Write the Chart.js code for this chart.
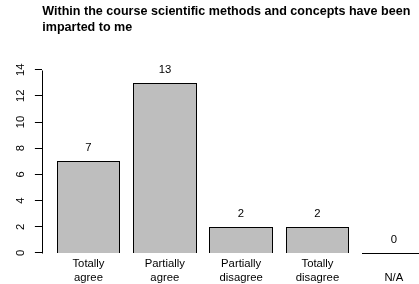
<!DOCTYPE html>
<html>
<head>
<meta charset="utf-8">
<script src="https://cdn.jsdelivr.net/npm/chart.js@4"></script>
<style>
    html, body { margin: 0; padding: 0; background: #fff; overflow: hidden; }
    #wrap { width: 419px; height: 284px; overflow: hidden; }
    canvas { display: block; }
</style>
</head>
<body>
<div id="wrap"><canvas id="barChart" width="441" height="284"></canvas></div>
<script>
'use strict';

const titleLines = ['Within the course scientific methods and concepts have been', 'imparted to me'];
const categories = [['Totally', 'agree'], ['Partially', 'agree'], ['Partially', 'disagree'], ['Totally', 'disagree'], ['', 'N/A']];
const counts = [7, 13, 2, 2, 0];
const yTicks = [0, 2, 4, 6, 8, 10, 12, 14];

const fontFamily = '"Liberation Sans", Arial, Helvetica, sans-serif';
// barplot layout: width 1, space 0.2
const barCenters = counts.map((_, i) => 0.7 + 1.2 * i);

const rStyle = {
    id: 'rStyle',
    beforeDatasetsDraw(chart) {
        // snap bar edges to whole pixels so the outlines stay crisp
        chart.getDatasetMeta(0).data.forEach(bar => {
            const left = Math.round(bar.x - bar.width / 2);
            const right = Math.round(bar.x + bar.width / 2);
            bar.x = (left + right) / 2;
            bar.width = right - left;
            bar.y = Math.round(bar.y);
            bar.base = Math.round(bar.base) + 1;
        });
    },
    afterDraw(chart) {
        const ctx = chart.ctx;
        const yScale = chart.scales.y;
        const area = chart.chartArea;
        ctx.save();

        // title, left aligned with the plot region
        ctx.fillStyle = '#000';
        ctx.font = 'bold 12.55px ' + fontFamily;
        ctx.textAlign = 'left';
        ctx.textBaseline = 'alphabetic';
        ctx.fillText(titleLines[0], 42.3, 15.3);
        ctx.fillText(titleLines[1], 42.3, 31);

        // y axis line only from first to last tick
        const ax = Math.round(area.left) + 0.5;
        ctx.strokeStyle = '#000';
        ctx.lineWidth = 1;
        ctx.beginPath();
        ctx.moveTo(ax, Math.round(yScale.getPixelForValue(yTicks[0])) + 0.5);
        ctx.lineTo(ax, Math.round(yScale.getPixelForValue(yTicks[yTicks.length - 1])) + 0.5);
        ctx.stroke();

        // counts above bars, zero bars as a flat line
        const meta = chart.getDatasetMeta(0);
        ctx.font = '11.3px ' + fontFamily;
        ctx.textAlign = 'center';
        ctx.textBaseline = 'middle';
        meta.data.forEach((bar, i) => {
            const {x, width} = bar.getProps(['x', 'width'], true);
            ctx.fillText(String(counts[i]), x, yScale.getPixelForValue(counts[i] + 1));
            if (counts[i] === 0) {
                const y0 = Math.round(yScale.getPixelForValue(0)) + 0.5;
                ctx.beginPath();
                ctx.moveTo(x - width / 2, y0);
                ctx.lineTo(x + width / 2, y0);
                ctx.stroke();
            }
        });
        ctx.restore();
    }
};

const ctx = document.getElementById('barChart').getContext('2d');

new Chart(ctx, {
    type: 'bar',
    data: {
        datasets: [{
            data: counts.map((v, i) => ({x: barCenters[i], y: v})),
            backgroundColor: '#bebebe',
            borderColor: '#000',
            borderWidth: 1,
            barPercentage: 1 / 1.2,
            categoryPercentage: 1
        }]
    },
    options: {
        responsive: false,
        animation: false,
        layout: {padding: {top: 62.3, right: 0.6, left: 0, bottom: 0}},
        plugins: {
            legend: {display: false},
            tooltip: {enabled: false},
            title: {display: false}
        },
        scales: {
            x: {
                type: 'linear',
                offset: false,
                min: -0.032,
                max: 6.232,
                afterBuildTicks: scale => { scale.ticks = barCenters.map(v => ({value: v})); },
                afterFit: scale => { scale.height = 28.4; },
                grid: {display: false, drawTicks: false, offset: false},
                border: {display: false},
                ticks: {
                    callback: (value, index) => categories[index],
                    color: '#000',
                    font: {family: fontFamily, size: 11.3, lineHeight: 1.25},
                    padding: 1.2,
                    maxRotation: 0,
                    autoSkip: false
                }
            },
            y: {
                min: -0.2,
                max: 14.56,
                afterBuildTicks: scale => { scale.ticks = yTicks.map(v => ({value: v})); },
                afterFit: scale => { scale.width = 41.9; },
                grid: {drawOnChartArea: false, tickLength: 7, color: '#000'},
                border: {display: false},
                ticks: {
                    minRotation: 90,
                    maxRotation: 90,
                    crossAlign: 'center',
                    padding: 8,
                    color: '#000',
                    font: {family: fontFamily, size: 11.3}
                }
            }
        }
    },
    plugins: [rStyle]
});
</script>
</body>
</html>
